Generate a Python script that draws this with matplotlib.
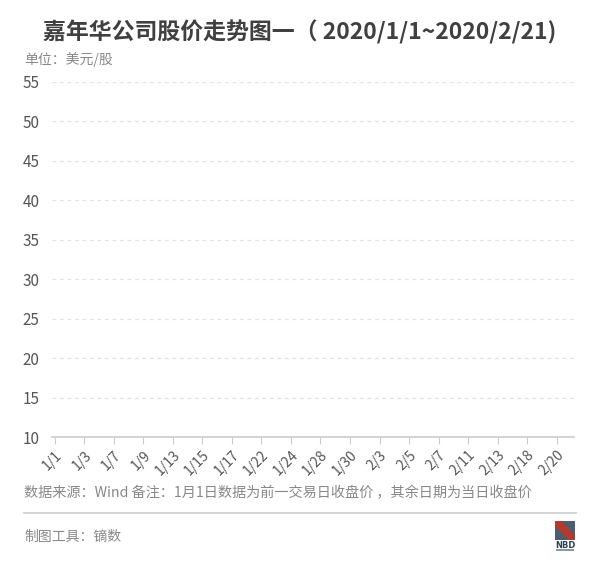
import matplotlib
matplotlib.use('Agg')
import matplotlib.pyplot as plt
from matplotlib.patches import Rectangle, Polygon

plt.rcParams['font.family'] = ['Noto Sans CJK SC', 'DejaVu Sans']

# trading days, 2020/1/1 ~ 2020/2/21 (1/1 = previous close)
dates = ['1/1', '1/2', '1/3', '1/6', '1/7', '1/8', '1/9', '1/10', '1/13', '1/14',
         '1/15', '1/16', '1/17', '1/21', '1/22', '1/23', '1/24', '1/27', '1/28', '1/29',
         '1/30', '1/31', '2/3', '2/4', '2/5', '2/6', '2/7', '2/10', '2/11', '2/12',
         '2/13', '2/14', '2/18', '2/19', '2/20', '2/21']
y_ticks = [10, 15, 20, 25, 30, 35, 40, 45, 50, 55]

title = '嘉年华公司股价走势图一（ 2020/1/1~2020/2/21)'
unit = '单位：美元/股'
source = '数据来源：Wind 备注：1月1日数据为前一交易日收盘价 ，其余日期为当日收盘价'
tool = '制图工具：镝数'

W, H = 600, 567
fig = plt.figure(figsize=(W / 100, H / 100), dpi=100)
fig.patch.set_facecolor('white')

def fx(px):
    return px / W

def fy(py):
    return 1 - py / H

ax = fig.add_axes([fx(52), fy(437), fx(574) - fx(52), fy(82) - fy(437)])
ax.set_xlim(-0.18, len(dates) - 1 + 0.17)
ax.set_ylim(y_ticks[0], y_ticks[-1])

for s in ['left', 'right', 'top']:
    ax.spines[s].set_visible(False)
ax.spines['bottom'].set_color('#cccccc')
ax.spines['bottom'].set_linewidth(1.2)

ax.set_yticks(y_ticks)
ax.set_yticklabels([str(v) for v in y_ticks], fontsize=11, color='#555555')
ax.tick_params(axis='y', length=0, pad=9)
ax.yaxis.grid(True, color='#e3e3e3', linestyle=(0, (3, 3)), linewidth=0.9)
ax.set_axisbelow(True)

idx = list(range(0, len(dates), 2))
ax.set_xticks(idx)
ax.set_xticklabels([dates[i] for i in idx], rotation=45, ha='right', va='top',
                   rotation_mode='anchor', fontsize=10, color='#555555')
ax.tick_params(axis='x', length=5, color='#cccccc', pad=3)

fig.text(0.5, fy(32), title, ha='center', va='center', fontsize=16.5,
         fontweight='bold', color='#404040')
fig.text(fx(24), fy(60), unit, ha='left', va='center', fontsize=10, color='#888888')
fig.text(fx(24), fy(493), source, ha='left', va='center', fontsize=10.2, color='#888888')
fig.add_artist(plt.Line2D([fx(24), fx(576)], [fy(513), fy(513)], color='#cccccc',
                          linewidth=1.2, transform=fig.transFigure))
fig.text(fx(24), fy(537), tool, ha='left', va='center', fontsize=10, color='#888888')

# NBD logo
fig.add_artist(Rectangle((fx(555), fy(540)), fx(20), fy(521) - fy(540),
                         facecolor='#4d5d70', edgecolor='none', transform=fig.transFigure))
fig.add_artist(Polygon([(fx(555), fy(521)), (fx(562), fy(521)), (fx(575), fy(535)),
                        (fx(575), fy(540)), (fx(569), fy(540)), (fx(555), fy(526))],
                       closed=True, facecolor='#b23b30', edgecolor='none',
                       transform=fig.transFigure))
fig.text(fx(565), fy(545), 'NBD', ha='center', va='center', fontsize=6,
         fontweight='bold', color='#2d3e55', family='DejaVu Sans')
fig.add_artist(Rectangle((fx(556), fy(551)), fx(18), fy(549) - fy(551),
                         facecolor='#8a96a6', edgecolor='none', transform=fig.transFigure))

fig.savefig('out.png', dpi=100, facecolor='white')
